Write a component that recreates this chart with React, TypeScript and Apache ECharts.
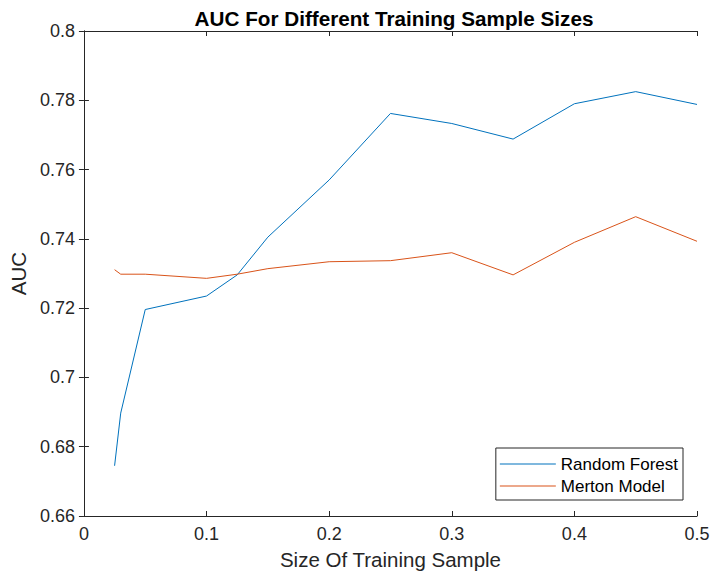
import React, { useEffect, useRef } from "react";
import * as echarts from "echarts";

const sampleSizes = [0.025, 0.03, 0.05, 0.1, 0.125, 0.15, 0.2, 0.25, 0.3, 0.35, 0.4, 0.45, 0.5];
const randomForest = [0.6745, 0.6897, 0.7196, 0.7235, 0.7296, 0.7405, 0.757, 0.7762, 0.7733, 0.7688, 0.7790, 0.7825, 0.7788];
const mertonModel = [0.7311, 0.7298, 0.7298, 0.7286, 0.7298, 0.7314, 0.7334, 0.7337, 0.7360, 0.7296, 0.7390, 0.7464, 0.7393];
const xTicks = [0, 0.1, 0.2, 0.3, 0.4, 0.5];

const FONT = "'Liberation Sans', Arial, sans-serif";
const AXIS_COLOR = "#262626";

const fmt = (v: number) => String(parseFloat(v.toFixed(2)));

export default function App() {
  const ref = useRef<HTMLDivElement>(null);

  useEffect(() => {
    if (!ref.current) return;
    const chart = echarts.init(ref.current, undefined, { renderer: "svg" });
    const pairs = (ys: number[]) => sampleSizes.map((x, i) => [x, ys[i]]);
    const boxAxis = {
      axisLine: { show: true, lineStyle: { color: AXIS_COLOR, width: 1 } },
      axisTick: { show: true, inside: true, length: 5, lineStyle: { color: AXIS_COLOR } },
      axisLabel: { show: false },
      splitLine: { show: false },
    };
    chart.setOption({
      animation: false,
      backgroundColor: "#ffffff",
      title: {
        text: "AUC For Different Training Sample Sizes",
        left: 389,
        textAlign: "center",
        top: 3,
        textStyle: { fontFamily: FONT, fontSize: 20.7, fontWeight: "bold", color: "#000000" },
      },
      grid: { left: 82, right: 16, top: 31, bottom: 63, containLabel: false },
      legend: {
        right: 30,
        bottom: 79,
        orient: "vertical",
        itemWidth: 56,
        itemHeight: 1,
        itemGap: 2,
        padding: [6, 5, 4, 4],
        borderColor: "#262626",
        borderWidth: 1,
        backgroundColor: "#ffffff",
        icon: "rect",
        textStyle: { fontFamily: FONT, fontSize: 17, lineHeight: 20, color: "#000000" },
        data: ["Random Forest", "Merton Model"],
      },
      xAxis: [
        {
          type: "value",
          min: 0,
          max: 0.5,
          interval: 0.1,
          name: "Size Of Training Sample",
          nameLocation: "middle",
          nameGap: 33,
          nameTextStyle: { fontFamily: FONT, fontSize: 20.5, color: AXIS_COLOR },
          axisLine: { show: true, onZero: false, lineStyle: { color: AXIS_COLOR, width: 1 } },
          axisTick: { show: true, inside: true, length: 5, lineStyle: { color: AXIS_COLOR } },
          axisLabel: {
            fontFamily: FONT,
            fontSize: 18,
            color: AXIS_COLOR,
            margin: 9,
            formatter: (v: number) => (xTicks.some((t) => Math.abs(t - v) < 1e-9) ? fmt(v) : ""),
          },
          splitLine: { show: false },
        },
        { type: "value", position: "top", min: 0, max: 0.5, interval: 0.1, ...boxAxis },
      ],
      yAxis: [
        {
          type: "value",
          min: 0.66,
          max: 0.8,
          interval: 0.02,
          name: "AUC",
          nameLocation: "middle",
          nameGap: 52,
          nameTextStyle: { fontFamily: FONT, fontSize: 20.5, color: AXIS_COLOR },
          axisLine: { show: true, onZero: false, lineStyle: { color: AXIS_COLOR, width: 1 } },
          axisTick: { show: true, inside: true, length: 5, lineStyle: { color: AXIS_COLOR } },
          axisLabel: { fontFamily: FONT, fontSize: 18, color: AXIS_COLOR, margin: 9, formatter: fmt },
          splitLine: { show: false },
        },
        { type: "value", position: "right", min: 0.66, max: 0.8, interval: 0.02, ...boxAxis },
      ],
      series: [
        {
          name: "Random Forest",
          type: "line",
          data: pairs(randomForest),
          showSymbol: false,
          symbol: "none",
          lineStyle: { color: "#0072BD", width: 1 },
          itemStyle: { color: "#0072BD" },
        },
        {
          name: "Merton Model",
          type: "line",
          data: pairs(mertonModel),
          showSymbol: false,
          symbol: "none",
          lineStyle: { color: "#D95319", width: 1 },
          itemStyle: { color: "#D95319" },
        },
      ],
    });
    return () => chart.dispose();
  }, []);

  return <div ref={ref} style={{ width: 713, height: 579, position: "absolute", left: 0, top: 0 }} />;
}
